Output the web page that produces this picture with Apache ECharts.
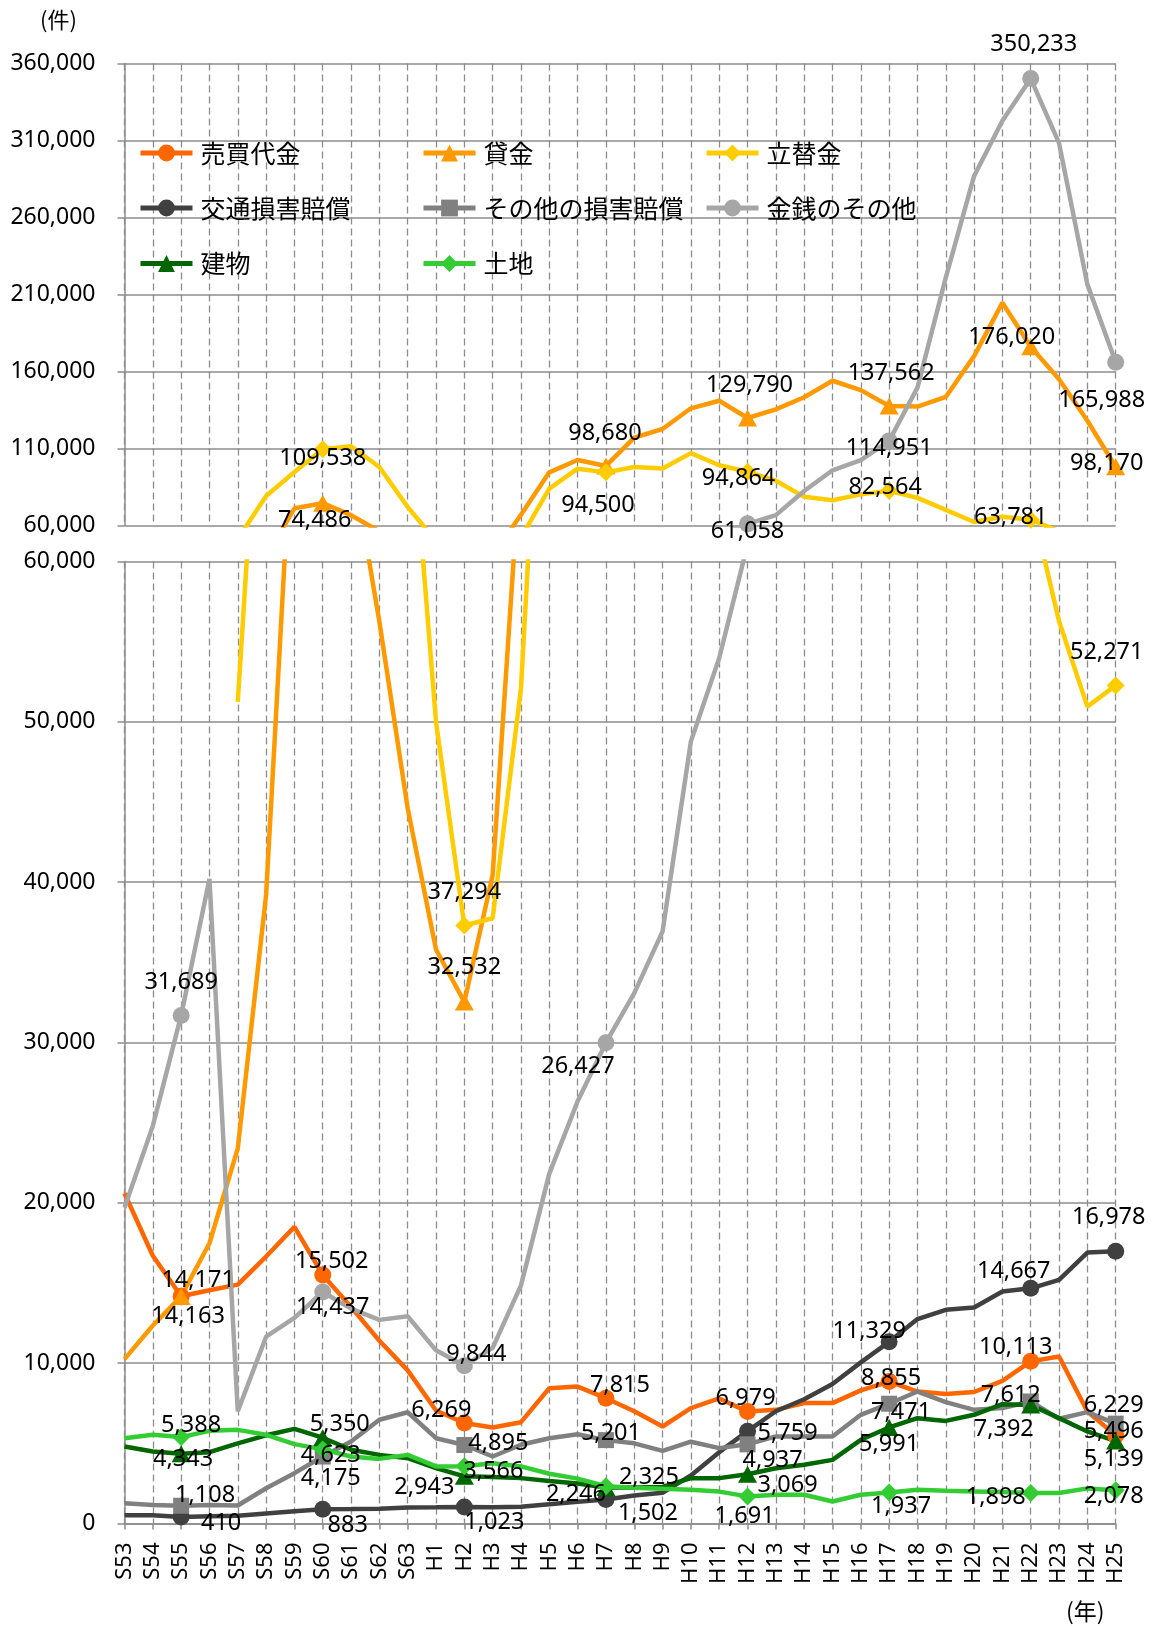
<!DOCTYPE html>
<html>
<head>
<meta charset="utf-8">
<script src="https://cdn.jsdelivr.net/npm/echarts@6/dist/echarts.min.js"></script>
<style>
  html, body { margin: 0; padding: 0; background: #fff; }
  #chart { width: 1154px; height: 1626px; }
</style>
</head>
<body>
<div id="chart"></div>
<script>
const categories = ['S53', 'S54', 'S55', 'S56', 'S57', 'S58', 'S59', 'S60', 'S61', 'S62', 'S63',
  'H1', 'H2', 'H3', 'H4', 'H5', 'H6', 'H7', 'H8', 'H9', 'H10', 'H11', 'H12', 'H13', 'H14', 'H15',
  'H16', 'H17', 'H18', 'H19', 'H20', 'H21', 'H22', 'H23', 'H24', 'H25']

const baibaiDaikin = [20600, 16700, 14171, 14550, 14900, 16650, 18500, 15502, 13500, 11400, 9550, 7050,
  6269, 5990, 6320, 8440, 8540, 7815, 7000, 6050, 7200, 7800, 6979, 7090, 7510, 7510, 8300, 8855,
  8230, 8070, 8200, 8900, 10113, 10420, 6990, 5496]
const kashikin = [10250, 12350, 14163, 17480, 23400, 39200, 71200, 74486, 66700, 56250, 44600, 35800,
  32532, 40450, 67000, 94500, 102500, 98680, 117100, 122650, 136100, 141000, 129790, 135400, 143250,
  154000, 147900, 137562, 137200, 143450, 170000, 204700, 176020, 155000, 128000, 98170]
const tatekaekin = [null, null, null, null, 51250, 79100, 94700, 109538, 111500, 98000, 72000, 50000,
  37294, 37750, 52100, 84000, 96900, 94500, 98000, 96950, 107000, 99150, 94864, 89100, 78600, 76400,
  80200, 82564, 77900, 70100, 62300, 65650, 63781, 56270, 50950, 52271]
const kotsuSongai = [520, 510, 410, 450, 480, 620, 760, 883, 900, 920, 1000, 1010, 1023, 1010, 1050,
  1200, 1350, 1502, 1750, 1920, 3000, 4450, 5759, 7000, 7750, 8700, 10050, 11329, 12750, 13330, 13475,
  14470, 14667, 15200, 16900, 16978]
const sonotaSongai = [1270, 1160, 1108, 1150, 1120, 2200, 3140, 4175, 5110, 6470, 6940, 5320, 4895,
  4180, 4910, 5320, 5570, 5201, 5000, 4530, 5100, 4700, 4937, 5430, 5430, 5430, 6780, 7471, 8230, 7570,
  7090, 7200, 7612, 6530, 6950, 6229]
const kinsenSonota = [19700, 24800, 31689, 40200, 7000, 11650, 12820, 14437, 13400, 12700, 12930, 10800,
  9844, 10950, 14850, 21820, 26330, 29990, 33080, 36930, 48780, 53980, 61058, 66750, 82400, 95850,
  102500, 114951, 149500, 221000, 287000, 322800, 350233, 308250, 216570, 165988]
const tatemono = [4800, 4490, 4343, 4450, 5000, 5500, 5900, 5350, 4600, 4280, 4070, 3450, 2943, 2900,
  2830, 2650, 2500, 2246, 2250, 2280, 2830, 2830, 3069, 3450, 3660, 3970, 5220, 5991, 6570, 6400, 6780,
  7440, 7392, 6570, 5740, 5139]
const tochi = [5320, 5530, 5388, 5780, 5840, 5530, 4950, 4623, 4180, 4030, 4280, 3560, 3566, 3760,
  3560, 3100, 2800, 2325, 2230, 2170, 2100, 1990, 1691, 1790, 1790, 1370, 1790, 1937, 2100, 2040, 2000,
  1960, 1898, 1900, 2190, 2078]

const topTicks = [60000, 110000, 160000, 210000, 260000, 310000, 360000]
const bottomTicks = [0, 10000, 20000, 30000, 40000, 50000, 60000]

// points that get a marker and a value label (every 5 years + last)
const markedIdx = [2, 7, 12, 17, 22, 27, 32, 35]
// label printed in the source differs from where the H7 point sits
const labelOverrides = { '金銭のその他': { 17: '26,427' } }

const NUM_FONT = '"Noto Sans", "Liberation Sans", sans-serif'
const JP_FONT = '"Noto Sans CJK JP", "Noto Sans", sans-serif'
const GRID_COLOR = '#8c8c8c'

// label offsets (label centre - marker centre) for each marked point
const seriesDefs = [
  { name: '売買代金', values: baibaiDaikin, color: '#FF6600', symbol: 'circle', size: 17,
    offsets: [[17, -16], [9, -14], [-23, -13], [14, -13], [-2, -13], [2, -3], [-15, -14], [-2, -4]] },
  { name: '貸金', values: kashikin, color: '#FF9900', symbol: 'triangle', size: [19, 17],
    offsets: [[7, 20], [-8, 17], [0, -35], [-1, -33], [2, -33], [2, -33], [-19, -10], [-9, -3]] },
  { name: '立替金', values: tatekaekin, color: '#FFCC00', symbol: 'diamond', size: 18,
    offsets: [[0, 0], [0, 9], [0, -33], [-8, 33], [-9, 7], [-4, -3], [-20, -2], [-9, -33]] },
  { name: '交通損害賠償', values: kotsuSongai, color: '#404040', symbol: 'circle', size: 17,
    offsets: [[40, 6], [25, 16], [30, 15], [42, 14], [40, 2], [-20, -11], [-17, -17], [-7, -34]] },
  { name: 'その他の損害賠償', values: sonotaSongai, color: '#808080', symbol: 'rect', size: 16,
    offsets: [[24, -10], [8, 22], [34, -2], [5, -7], [25, 16], [12, 9], [-20, -6], [-2, -18]] },
  { name: '金銭のその他', values: kinsenSonota, color: '#A6A6A6', symbol: 'circle', size: 17,
    offsets: [[0, -33], [10, 15], [12, -11], [-28, 24], [0, 7], [0, 7], [3, -34], [-14, 38]] },
  { name: '建物', values: tatemono, color: '#006600', symbol: 'triangle', size: [19, 17],
    offsets: [[2, 5], [17, -13], [-40, 11], [-30, 7], [40, 11], [0, 17], [-27, 24], [-2, 18]] },
  { name: '土地', values: tochi, color: '#33CC33', symbol: 'diamond', size: 18,
    offsets: [[10, -12], [8, 6], [29, 5], [43, -9], [-3, 20], [12, 14], [-35, 4], [-2, 6]] },
]

const legendPos = [[138, 153], [421, 153], [704, 153], [138, 208], [421, 208], [704, 208], [138, 263.5], [421, 263.5]]

function buildData(def) {
  return def.values.map((v, i) => {
    if (v == null) return '-'
    const k = markedIdx.indexOf(i)
    if (k < 0) return { value: v, symbol: 'none' }
    const override = (labelOverrides[def.name] || {})[i]
    return {
      value: v,
      label: {
        show: true,
        position: 'inside',
        offset: def.offsets[k],
        formatter: override || v.toLocaleString('en-US'),
      },
    }
  })
}

function yAxisFor(ticks, gridIndex) {
  return {
    type: 'value',
    gridIndex,
    min: ticks[0],
    max: ticks[ticks.length - 1],
    interval: ticks[1] - ticks[0],
    axisLine: { show: true, lineStyle: { color: GRID_COLOR, width: 1.5 } },
    axisTick: { show: true, length: 7, lineStyle: { color: GRID_COLOR, width: 1.5 } },
    axisLabel: {
      margin: 29,
      fontSize: 23,
      fontFamily: NUM_FONT,
      color: '#000',
      formatter: (v) => v.toLocaleString('en-US'),
    },
    splitLine: { show: true, lineStyle: { color: GRID_COLOR, width: 1.5 } },
  }
}

function xAxisFor(gridIndex, withLabels) {
  return {
    type: 'category',
    gridIndex,
    data: categories,
    boundaryGap: false,
    axisLine: { show: withLabels, lineStyle: { color: GRID_COLOR, width: 1.5 } },
    axisTick: { show: withLabels, interval: 0, length: 6, lineStyle: { color: GRID_COLOR, width: 1.5 } },
    axisLabel: {
      show: withLabels,
      interval: 0,
      rotate: 90,
      margin: 19,
      fontSize: 22,
      fontFamily: NUM_FONT,
      color: '#000',
    },
    splitLine: { show: true, interval: 0, lineStyle: { color: GRID_COLOR, width: 1.3, type: [7, 4] } },
  }
}

const series = []
;[0, 1].forEach((panel) => {
  seriesDefs.forEach((def) => {
    series.push({
      type: 'line',
      name: def.name,
      xAxisIndex: panel,
      yAxisIndex: panel,
      data: buildData(def),
      symbol: def.symbol,
      symbolSize: def.size,
      showAllSymbol: true,
      connectNulls: false,
      clip: true,
      lineStyle: { color: def.color, width: 4.5 },
      itemStyle: { color: def.color },
      label: { color: '#000', fontSize: 23.5, fontFamily: NUM_FONT },
      emphasis: { disabled: true },
    })
  })
})

const chart = echarts.init(document.getElementById('chart'), null, { renderer: 'canvas' })

chart.setOption({
  animation: false,
  backgroundColor: '#fff',
  grid: [
    { left: 124.5, right: 38.3, top: 63.5, height: 462 },
    { left: 124.5, right: 38.3, top: 561.5, height: 962 },
  ],
  xAxis: [xAxisFor(0, false), xAxisFor(1, true)],
  yAxis: [yAxisFor(topTicks, 0), yAxisFor(bottomTicks, 1)],
  legend: seriesDefs.map((def, i) => ({
    data: [def.name],
    left: legendPos[i][0],
    top: legendPos[i][1] - 13,
    padding: 0,
    itemWidth: 52,
    itemHeight: 21,
    selectedMode: false,
    lineStyle: { width: 5 },
    textStyle: { fontSize: 25, fontFamily: JP_FONT, color: '#000', lineHeight: 26, padding: [0, 0, 0, 3] },
  })),
  graphic: [
    { type: 'text', left: 40, top: 9, style: { text: '(件)', font: '22px ' + JP_FONT, fill: '#000' } },
    { type: 'text', left: 1066, top: 1600, style: { text: '(年)', font: '23px ' + JP_FONT, fill: '#000' } },
  ],
  series,
})
</script>
</body>
</html>
